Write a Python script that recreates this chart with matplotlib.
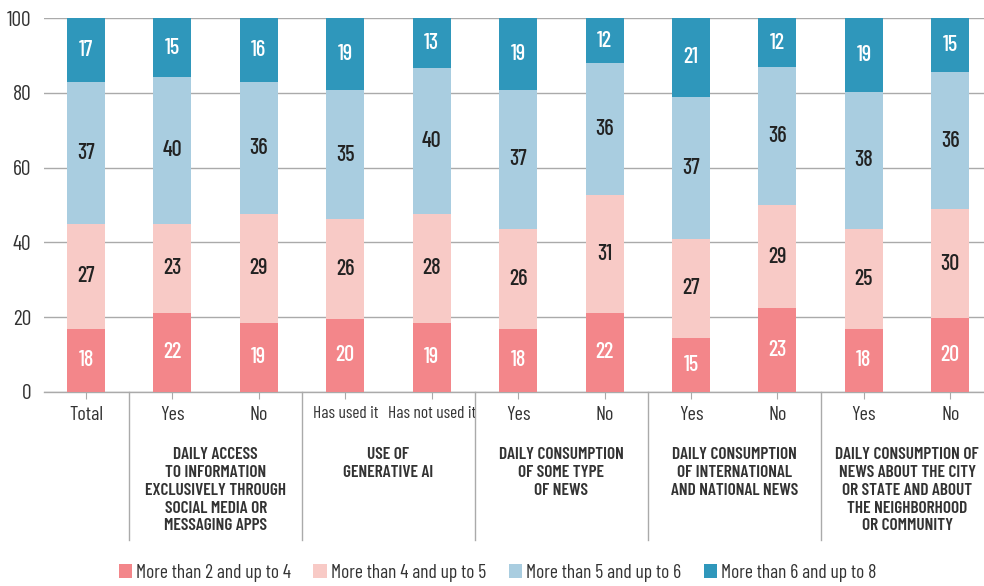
import matplotlib
matplotlib.use("Agg")
import matplotlib.pyplot as plt
from matplotlib.patches import Patch
import numpy as np

# bar categories and the group each pair belongs to
categories = ["Total", "Yes", "No", "Has used it", "Has not used it",
              "Yes", "No", "Yes", "No", "Yes", "No"]
groups = [
    "DAILY ACCESS\nTO INFORMATION\nEXCLUSIVELY THROUGH\nSOCIAL MEDIA OR\nMESSAGING APPS",
    "USE OF\nGENERATIVE AI",
    "DAILY CONSUMPTION\nOF SOME TYPE\nOF NEWS",
    "DAILY CONSUMPTION\nOF INTERNATIONAL\nAND NATIONAL NEWS",
    "DAILY CONSUMPTION OF\nNEWS ABOUT THE CITY\nOR STATE AND ABOUT\nTHE NEIGHBORHOOD\nOR COMMUNITY",
]
series_names = ["More than 2 and up to 4", "More than 4 and up to 5",
                "More than 5 and up to 6", "More than 6 and up to 8"]

# segment heights and the printed labels
h_2_4 = [16.8, 21.1, 18.4, 19.5, 18.4, 16.8, 21.1, 14.4, 22.4, 16.8, 19.7]
h_4_5 = [28.1, 23.8, 29.2, 26.7, 29.2, 26.8, 31.6, 26.5, 27.6, 26.8, 29.2]
h_5_6 = [38.0, 39.4, 35.3, 34.6, 39.1, 37.2, 35.3, 38.1, 36.9, 36.7, 36.7]
h_6_8 = [17.1, 15.7, 17.1, 19.2, 13.3, 19.2, 12.0, 21.0, 13.1, 19.7, 14.4]

lbl_2_4 = [18, 22, 19, 20, 19, 18, 22, 15, 23, 18, 20]
lbl_4_5 = [27, 23, 29, 26, 28, 26, 31, 27, 29, 25, 30]
lbl_5_6 = [37, 40, 36, 35, 40, 37, 36, 37, 36, 38, 36]
lbl_6_8 = [17, 15, 16, 19, 13, 19, 12, 21, 12, 19, 15]

colors = ["#F3868A", "#F8CAC6", "#A9CDE0", "#2F97BB"]
label_colors = ["white", "#222222", "#222222", "white"]

plt.rcParams["font.family"] = ["Barlow Condensed", "DejaVu Sans"]

fig = plt.figure(figsize=(9.84, 5.86), dpi=100)
ax = fig.add_axes([0.0447, 0.3316, 0.9553, 0.6372])

x = np.arange(len(categories))
heights = [h_2_4, h_4_5, h_5_6, h_6_8]
labels = [lbl_2_4, lbl_4_5, lbl_5_6, lbl_6_8]
bottom = np.zeros(len(categories))
for h, lbl, c, tc in zip(heights, labels, colors, label_colors):
    h = np.array(h)
    ax.bar(x, h, bottom=bottom, width=0.44, color=c, zorder=3)
    for xi, b, hi, v in zip(x, bottom, h, lbl):
        ax.text(xi, b + hi / 2, str(v), ha="center", va="center",
                color=tc, fontsize=16, fontweight="medium", zorder=4)
    bottom = bottom + h

ax.set_xlim(-0.486, 10.39)
ax.set_ylim(0, 100)
ax.set_yticks(range(0, 101, 20))
ax.grid(axis="y", color="#aaaaaa", linewidth=1, zorder=0)
for s in ["top", "right", "left"]:
    ax.spines[s].set_visible(False)
ax.spines["bottom"].set_color("#aaaaaa")
ax.spines["bottom"].set_linewidth(1)
ax.tick_params(axis="y", length=0, labelsize=15.5, labelcolor="#333333", pad=9)
ax.tick_params(axis="x", length=10, direction="inout", color="#aaaaaa",
               labelsize=14.5, labelcolor="#333333", pad=5)
ax.set_xticks(x)
ax.set_xticklabels(categories)
# the two long labels are set tighter in the original
for t in ax.get_xticklabels()[3:5]:
    t.set_fontsize(12.5)

# separators and group titles under the axis
trans = ax.get_xaxis_transform()
for sep in [0.5, 2.5, 4.5, 6.5, 8.5]:
    ax.plot([sep, sep], [0, -0.397], transform=trans, color="#aaaaaa",
            linewidth=1, clip_on=False)
for i, g in enumerate(groups):
    ax.text(1.5 + 2 * i, -0.148, g, transform=trans, ha="center", va="top",
            fontsize=12.5, fontweight="semibold", color="#333333", linespacing=1.24)

handles = [Patch(facecolor=c, label=n) for c, n in zip(colors, series_names)]
fig.legend(handles=handles, loc="center", bbox_to_anchor=(0.5056, 0.022), ncol=4,
           frameon=False, fontsize=14, handlelength=0.7, handleheight=0.7,
           handletextpad=0.2, columnspacing=1.15, labelcolor="#333333")

fig.savefig("out.png", dpi=100)
